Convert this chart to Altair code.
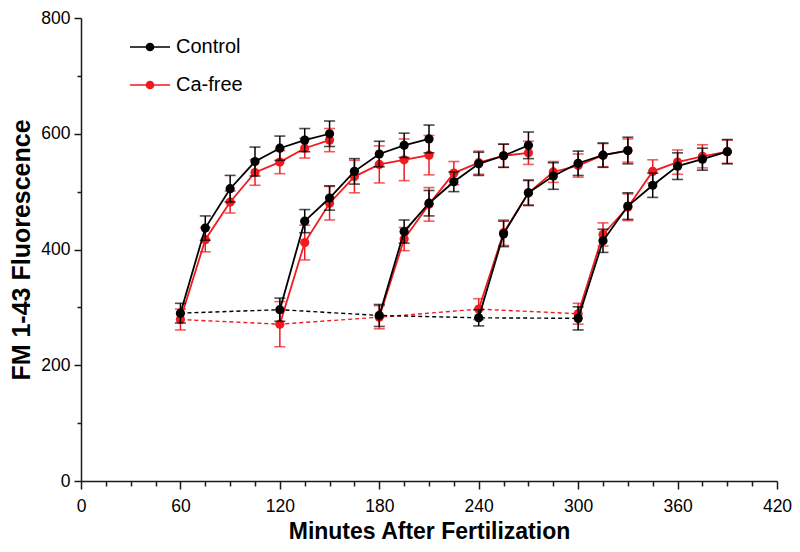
import altair as alt
import pandas as pd

# ---- data ----
seg_starts = [60, 120, 180, 240, 300]
step = 15
series_names = ["Control", "Ca-free"]
series_colors = ["#000000", "#f01a1f"]

control_values = [
    [290, 437, 505, 552, 575, 589, 600],
    [296, 449, 489, 535, 565, 580, 591],
    [286, 431, 480, 517, 548, 562, 580],
    [282, 427, 498, 527, 549, 563, 571],
    [281, 415, 475, 511, 544, 556, 569],
]
control_errors = [
    [17, 21, 23, 25, 21, 20, 22],
    [20, 20, 21, 22, 22, 21, 24],
    [19, 20, 22, 17, 20, 20, 23],
    [14, 22, 22, 23, 21, 21, 23],
    [20, 20, 23, 21, 23, 19, 21],
]
cafree_values = [
    [279, 417, 482, 533, 551, 575, 589],
    [271, 412, 480, 526, 547, 555, 563],
    [283, 418, 478, 532, 550, 562, 567],
    [297, 429, 498, 534, 545, 563, 571],
    [289, 426, 473, 535, 551, 561, 569],
]
cafree_errors = [
    [18, 21, 19, 22, 20, 17, 20],
    [39, 30, 29, 28, 32, 36, 34],
    [20, 20, 29, 20, 20, 20, 20],
    [18, 22, 21, 18, 20, 20, 20],
    [18, 20, 23, 20, 21, 20, 20],
]

x_ticks = list(range(0, 421, 15))
y_ticks = list(range(0, 801, 100))

rows = []
for name, vals, errs in [("Control", control_values, control_errors),
                         ("Ca-free", cafree_values, cafree_errors)]:
    for si, (start, sv, se) in enumerate(zip(seg_starts, vals, errs)):
        for k, (v, e) in enumerate(zip(sv, se)):
            rows.append(dict(series=name, seg=si, t=start + k * step,
                             value=v, lo=v - e, hi=v + e))
df = pd.DataFrame(rows)
base_df = df.groupby(["series", "seg"], as_index=False).first()

FONT = "Liberation Sans"
AXC = "#1a1a1a"

color_scale = alt.Scale(domain=series_names, range=series_colors)
legend = alt.Legend(
    title=None, orient="none", legendX=58, legendY=18,
    symbolType="M-2,0H2M0.36,0A0.36,0.36,0,1,1,-0.36,0A0.36,0.36,0,1,1,0.36,0Z",
    symbolSize=400, symbolStrokeWidth=1.5, symbolOpacity=1, labelOffset=15,
    labelFont=FONT, labelFontSize=20, labelColor="#000", rowPadding=17,
    padding=0,
)

x_scale = alt.Scale(domain=[0, 420], nice=False, zero=False)
y_scale = alt.Scale(domain=[0, 800], nice=False)

x_axis = alt.Axis(
    values=x_ticks, title="Minutes After Fertilization",
    labelExpr="datum.value % 60 === 0 ? datum.label : ''",
    tickSize={"condition": {"test": "datum.value % 60 === 0", "value": 8}, "value": 5},
    labelPadding=8, titlePadding=6, titleFontSize=23,
    labelFlush=False, labelOverlap=False,
)
y_axis = alt.Axis(
    values=y_ticks, title="FM 1-43 Fluorescence",
    labelExpr="datum.value % 200 === 0 ? datum.label : ''",
    tickSize={"condition": {"test": "datum.value % 200 === 0", "value": 7}, "value": 4},
    labelPadding=4, titlePadding=6, titleFontSize=25,
    labelFlush=False, labelOverlap=False,
)

X = alt.X("t:Q", scale=x_scale, axis=x_axis)
Y = alt.Y("value:Q", scale=y_scale, axis=y_axis)


def series_layers(name):
    d = df[df.series == name]
    b = base_df[base_df.series == name]
    stroke = alt.Stroke("series:N", scale=color_scale, legend=legend)
    fill = alt.Fill("series:N", scale=color_scale, legend=legend)
    err = alt.Chart(d).mark_rule(strokeWidth=1.5).encode(
        x=X, y=alt.Y("lo:Q", scale=y_scale, axis=y_axis), y2="hi:Q", stroke=stroke)
    cap_lo = alt.Chart(d).mark_tick(orient="horizontal", size=11, thickness=1.6).encode(
        x=X, y=alt.Y("lo:Q", scale=y_scale, axis=y_axis), fill=fill)
    cap_hi = alt.Chart(d).mark_tick(orient="horizontal", size=11, thickness=1.6).encode(
        x=X, y=alt.Y("hi:Q", scale=y_scale, axis=y_axis), fill=fill)
    base = alt.Chart(b).mark_line(strokeWidth=1.4, strokeDash=[4, 3]).encode(
        x=X, y=Y, stroke=stroke)
    line = alt.Chart(d).mark_line(strokeWidth=1.8).encode(
        x=X, y=Y, stroke=stroke, detail="seg:N")
    pts = alt.Chart(d).mark_circle(size=85, opacity=1).encode(
        x=X, y=Y, fill=fill)
    return [err, cap_lo, cap_hi, base, line, pts]


chart = alt.layer(*series_layers("Ca-free"), *series_layers("Control")).properties(
    width=696, height=463,
    autosize=alt.AutoSizeParams(type="none"),
    padding={"left": 73, "top": 10, "right": 15, "bottom": 63},
).configure_view(stroke=None).configure_axis(
    grid=False, domainColor=AXC, domainWidth=1.5, tickColor=AXC, tickWidth=1.5,
    labelFont=FONT, labelFontSize=17.5, labelColor="#000",
    titleFont=FONT, titleFontWeight="bold", titleColor="#000",
)

chart.save("out.html", embed_options={"renderer": "svg", "actions": False})
